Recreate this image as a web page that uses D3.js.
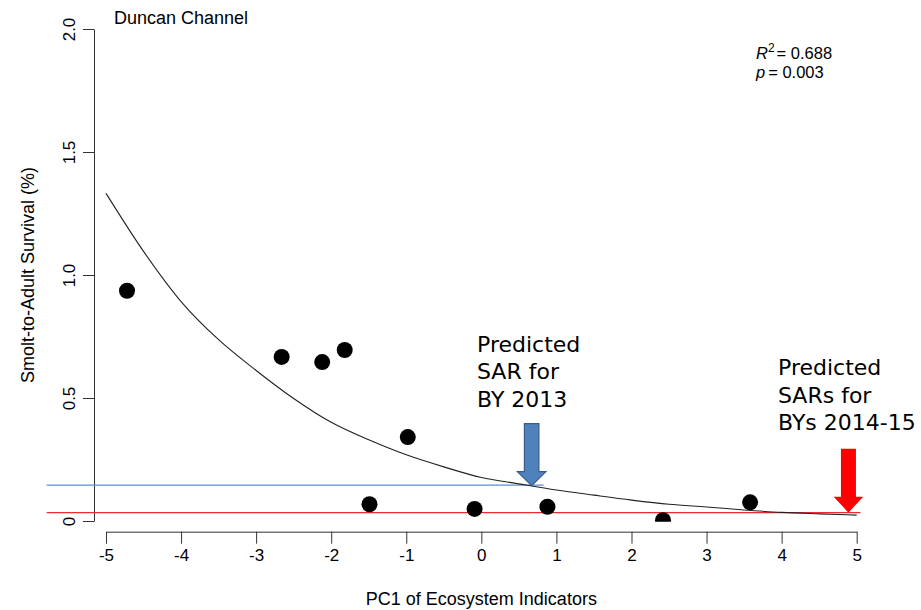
<!DOCTYPE html>
<html>
<head>
<meta charset="utf-8">
<script src="https://cdn.jsdelivr.net/npm/d3@7"></script>
<style>
  html, body { margin: 0; padding: 0; background: #fff; }
  svg { display: block; }
  text { font-family: "Liberation Sans", Arial, sans-serif; fill: #000; }
  .note { font-family: "Comic Sans MS", "DejaVu Sans", sans-serif; font-size: 22px; }
</style>
</head>
<body>
<svg id="chart" width="921" height="610"></svg>
<script>
// Observed smolt-to-adult survival (%) against PC1 of ecosystem indicators
const pc1 = [-4.72, -2.66, -2.12, -1.82, -0.98, -1.49, -0.09, 0.88, 2.42, 3.58];
const sar = [0.936, 0.667, 0.646, 0.695, 0.341, 0.068, 0.049, 0.058, 0.003, 0.076];

// Fitted curve, sampled along PC1
const fitX = [-5, -4.5, -4, -3.5, -3, -2.5, -2, -1.5, -1, -0.5, 0, 0.5, 1, 1.5, 2, 2.5, 3, 3.5, 4, 4.5, 5];
const fitY = [1.332, 1.096, 0.892, 0.737, 0.612, 0.498, 0.401, 0.330, 0.269, 0.220, 0.177, 0.151, 0.126, 0.105, 0.085, 0.068, 0.057, 0.045, 0.035, 0.029, 0.024];

// Axis ticks
const xTicks = [-5, -4, -3, -2, -1, 0, 1, 2, 3, 4, 5];
const xTickLabels = ["-5", "-4", "-3", "-2", "-1", "0", "1", "2", "3", "4", "5"];
const yTicks = [0, 0.5, 1.0, 1.5, 2.0];
const yTickLabels = ["0", "0.5", "1.0", "1.5", "2.0"];

// Predictions: BY 2013 (blue) and BYs 2014-15 (red)
const predPC1 = [0.67, 4.89];
const predSAR = [0.146, 0.034];
const predLineEnd = [0.83, 5.05];
const predLineStart = -5.79;
const predColors = ["#5b8fcf", "#ee2a2a"];
const noteLines = [["Predicted", "SAR for", "BY 2013"], ["Predicted", "SARs for", "BYs 2014-15"]];

const svg = d3.select("#chart");
const x = d3.scaleLinear().domain([-5, 5]).range([106, 856.7]);
const y = d3.scaleLinear().domain([0, 2]).range([521, 29]);

// Title and fit statistics
svg.append("text").attr("x", 114).attr("y", 24).attr("font-size", 18).text("Duncan Channel");
const r2 = svg.append("text").attr("x", 756).attr("y", 59).attr("font-size", 16.5);
r2.append("tspan").attr("font-style", "italic").text("R");
r2.append("tspan").attr("font-size", 12).attr("dy", -7).text("2");
r2.append("tspan").attr("dy", 7).attr("dx", 2).text("= 0.688");
const pv = svg.append("text").attr("x", 756).attr("y", 78).attr("font-size", 16.5);
pv.append("tspan").attr("font-style", "italic").text("p");
pv.append("tspan").attr("dx", 3).text("= 0.003");

// X axis
const gx = svg.append("g").attr("transform", "translate(0,531.7)")
  .call(d3.axisBottom(x).tickValues(xTicks).tickSize(12).tickSizeOuter(0).tickPadding(5)
    .tickFormat((d, i) => xTickLabels[i]));
gx.selectAll("text").attr("font-size", 17).attr("font-family", "Liberation Sans, Arial, sans-serif").attr("fill", "#000");
gx.selectAll("line, path").attr("stroke", "#333");

// Y axis with R-style rotated labels
const gy = svg.append("g").attr("transform", "translate(94,0)")
  .call(d3.axisLeft(y).tickValues(yTicks).tickSize(11).tickSizeOuter(0).tickFormat((d, i) => yTickLabels[i]));
gy.selectAll("line, path").attr("stroke", "#333");
gy.selectAll("text")
  .attr("font-size", 17).attr("font-family", "Liberation Sans, Arial, sans-serif").attr("fill", "#000")
  .attr("x", null).attr("dy", null)
  .attr("text-anchor", "middle")
  .attr("transform", "translate(-19,0) rotate(-90)");

// Axis titles
svg.append("text").attr("x", x(0)).attr("y", 605).attr("text-anchor", "middle").attr("font-size", 18)
  .text("PC1 of Ecosystem Indicators");
svg.append("text").attr("transform", `translate(34,${y(1)}) rotate(-90)`).attr("text-anchor", "middle").attr("font-size", 18)
  .text("Smolt-to-Adult Survival (%)");

// Prediction reference lines
predSAR.forEach((v, i) => {
  svg.append("line")
    .attr("x1", x(predLineStart)).attr("x2", x(predLineEnd[i]))
    .attr("y1", y(v)).attr("y2", y(v))
    .attr("stroke", predColors[i]).attr("stroke-width", 1.3);
});

// Fitted curve
const fit = fitX.map((d, i) => [d, fitY[i]]);
svg.append("path").datum(fit)
  .attr("d", d3.line().x(d => x(d[0])).y(d => y(d[1])).curve(d3.curveMonotoneX))
  .attr("fill", "none").attr("stroke", "#222").attr("stroke-width", 1.1);

// Points, clipped at zero survival
svg.append("clipPath").attr("id", "above-zero")
  .append("rect").attr("x", 0).attr("y", 0).attr("width", 921).attr("height", y(0) + 0.7);
svg.append("g").attr("clip-path", "url(#above-zero)")
  .selectAll("circle").data(pc1).join("circle")
  .attr("cx", d => x(d)).attr("cy", (d, i) => y(sar[i])).attr("r", 8).attr("fill", "#000");

// Block arrows pointing down at the predicted values
function arrowPath(tx, ty, len, shaftW, headW, headH) {
  const p = d3.path();
  p.moveTo(tx - shaftW / 2, ty - len);
  p.lineTo(tx + shaftW / 2, ty - len);
  p.lineTo(tx + shaftW / 2, ty - headH);
  p.lineTo(tx + headW / 2, ty - headH);
  p.lineTo(tx, ty);
  p.lineTo(tx - headW / 2, ty - headH);
  p.lineTo(tx - shaftW / 2, ty - headH);
  p.closePath();
  return p.toString();
}
svg.append("path")
  .attr("d", arrowPath(x(predPC1[0]), y(predSAR[0]) + 0.5, 62, 14.5, 28.5, 14))
  .attr("fill", "#4f81bd").attr("stroke", "#385d8a").attr("stroke-width", 1.2);
svg.append("path")
  .attr("d", arrowPath(x(predPC1[1]), y(predSAR[1]), 64, 15, 29.5, 16))
  .attr("fill", "#ff0000");

// Annotation notes
const noteAnchors = [[477, 351.7], [778, 375]];
noteLines.forEach((lines, i) => {
  const t = svg.append("text").attr("class", "note")
    .attr("x", noteAnchors[i][0]).attr("y", noteAnchors[i][1]);
  lines.forEach((s, j) => {
    t.append("tspan").attr("x", noteAnchors[i][0]).attr("dy", j === 0 ? 0 : 27.5).text(s);
  });
});
</script>
</body>
</html>
